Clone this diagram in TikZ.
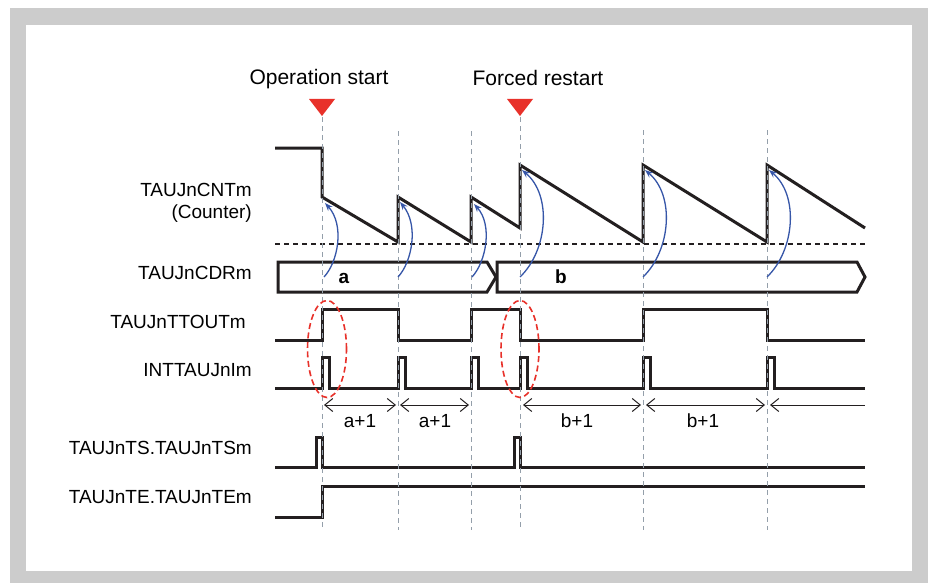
\documentclass[tikz,border=0pt]{standalone}
\usepackage{fontspec}
\setmainfont{Liberation Sans}
\usetikzlibrary{arrows.meta}
\definecolor{framegray}{HTML}{CCCCCC}
\definecolor{guide}{HTML}{949FAA}
\definecolor{marker}{HTML}{E8312A}
\definecolor{reload}{HTML}{3656A8}
\definecolor{sig}{HTML}{231F20}
\begin{document}
\begin{tikzpicture}[x=1pt,y=-1pt,
  wave/.style={draw=sig,line width=3pt,line join=miter},
  bus/.style={draw=sig,line width=3pt,line join=miter},
  guideline/.style={draw=guide,line width=1pt,dash pattern=on 5pt off 4pt},
  refline/.style={draw=sig,line width=1.4pt,dash pattern=on 5pt off 4pt},
  reloadarrow/.style={draw=reload,line width=1.3pt,-{Stealth[length=8pt,width=6pt]}},
  dim/.style={draw=sig,line width=1pt},
  sigtext/.style={anchor=east,font=\fontsize{19}{21}\selectfont,inner sep=0pt},
  titletext/.style={font=\fontsize{21}{24}\selectfont,inner sep=0pt},
  valtext/.style={font=\fontsize{19}{21}\selectfont,inner sep=0pt},
  bustext/.style={font=\fontsize{19}{21}\selectfont\bfseries,inner sep=0pt},
  ring/.style={draw=marker,line width=1.6pt,dash pattern=on 6pt off 3.5pt},
  tri/.style={fill=marker}]
\useasboundingbox (0,0) rectangle (928,583);
\fill[framegray] (10,8) rectangle (928,583);
\fill[white] (26,25) rectangle (912,571);

% titles and markers
\node[titletext] (opstart) at (319,79) {Operation start};
\node[titletext] (forced) at (538,78) {Forced restart};
\fill[tri] (309,99) -- (335,99) -- (322,116) -- cycle;
\fill[tri] (507,99) -- (533,99) -- (520,116) -- cycle;

% signal names
\node[sigtext] (cnt) at (252,190) {TAUJnCNTm};
\node[sigtext] (cntsub) at (252,214) {(Counter)};
\node[sigtext] (cdr) at (252,273) {TAUJnCDRm};
\node[sigtext] (ttout) at (246,322) {TAUJnTTOUTm};
\node[sigtext] (intr) at (252,370) {INTTAUJnIm};
\node[sigtext] (ts) at (252,448) {TAUJnTS.TAUJnTSm};
\node[sigtext] (te) at (252,497) {TAUJnTE.TAUJnTEm};

% counter
\draw[refline] (275,244) -- (865,244);
\draw[wave] (275,148) -- (322,148) -- (322,197) -- (398,242) -- (398,197) -- (471,242) -- (471,197) -- (520,228) -- (520,165) -- (643,242) -- (643,165) -- (767,242) -- (767,165) -- (865,228);

% CDR bus
\draw[bus] (278,262) -- (487,262) -- (496,277) -- (487,292) -- (278,292) -- cycle;
\draw[bus] (497,262) -- (857,262) -- (865,277) -- (857,292) -- (497,292) -- cycle;
\node[bustext] (va) at (344,278) {a};
\node[bustext] (vb) at (561,277) {b};

% TTOUT
\draw[wave] (275,340) -- (322,340) -- (322,309) -- (398,309) -- (398,340) -- (471,340) -- (471,309) -- (520,309) -- (520,340) -- (643,340) -- (643,309) -- (767,309) -- (767,340) -- (865,340);

% INT
\draw[wave] (275,388) -- (322,388) -- (322,357) -- (329,357) -- (329,388)
  -- (398,388) -- (398,357) -- (405,357) -- (405,388)
  -- (471,388) -- (471,357) -- (478,357) -- (478,388)
  -- (520,388) -- (520,357) -- (527,357) -- (527,388)
  -- (643,388) -- (643,357) -- (650,357) -- (650,388)
  -- (767,388) -- (767,357) -- (774,357) -- (774,388) -- (865,388);

% TS
\draw[wave] (275,467) -- (316,467) -- (316,437) -- (322,437) -- (322,467) -- (514,467) -- (514,437) -- (520,437) -- (520,467) -- (865,467);
% TE
\draw[wave] (275,517) -- (322,517) -- (322,486) -- (865,486);

% guide lines
\foreach \x/\t in {322/117,398/131,471/131,520/117,643/130,767/130}
  \draw[guideline] (\x,\t) -- (\x,530);

% reload arrows
\draw[reloadarrow] (324,277) .. controls (338,262) and (345,225) .. (325,203);
\draw[reloadarrow] (398,277) .. controls (412,262) and (419,225) .. (400,202);
\draw[reloadarrow] (472,277) .. controls (486,262) and (493,225) .. (474,204);
\draw[reloadarrow] (520,277) .. controls (548,250) and (552,195) .. (522,170);
\draw[reloadarrow] (643,277) .. controls (671,250) and (675,195) .. (645,170);
\draw[reloadarrow] (767,277) .. controls (795,250) and (799,195) .. (769,170);

% rings
\draw[ring] (327,349) ellipse [x radius=19.5pt, y radius=48.5pt];
\draw[ring] (520,349) ellipse [x radius=19pt, y radius=48.5pt];

% intervals
\coordinate (p0) at (324,405);
\coordinate (p1) at (396,405);
\coordinate (p2) at (400,405);
\coordinate (p3) at (469,405);
\coordinate (p4) at (523,405);
\coordinate (p5) at (641,405);
\coordinate (p6) at (646,405);
\coordinate (p7) at (765,405);
\coordinate (p8) at (770,405);
\coordinate (p9) at (865,405);
\draw[dim,{Straight Barb[length=8pt,width=13pt]}-{Straight Barb[length=8pt,width=13pt]}] (p0) -- (p1);
\draw[dim,{Straight Barb[length=8pt,width=13pt]}-{Straight Barb[length=8pt,width=13pt]}] (p2) -- (p3);
\draw[dim,{Straight Barb[length=8pt,width=13pt]}-{Straight Barb[length=8pt,width=13pt]}] (p4) -- (p5);
\draw[dim,{Straight Barb[length=8pt,width=13pt]}-{Straight Barb[length=8pt,width=13pt]}] (p6) -- (p7);
\draw[dim,{Straight Barb[length=8pt,width=13pt]}-] (p8) -- (p9);
\node[valtext] (ia) at (360,421) {a+1};
\node[valtext] (ib) at (435,421) {a+1};
\node[valtext] (ic) at (577,421) {b+1};
\node[valtext] (id) at (703,421) {b+1};
\end{tikzpicture}
\end{document}
